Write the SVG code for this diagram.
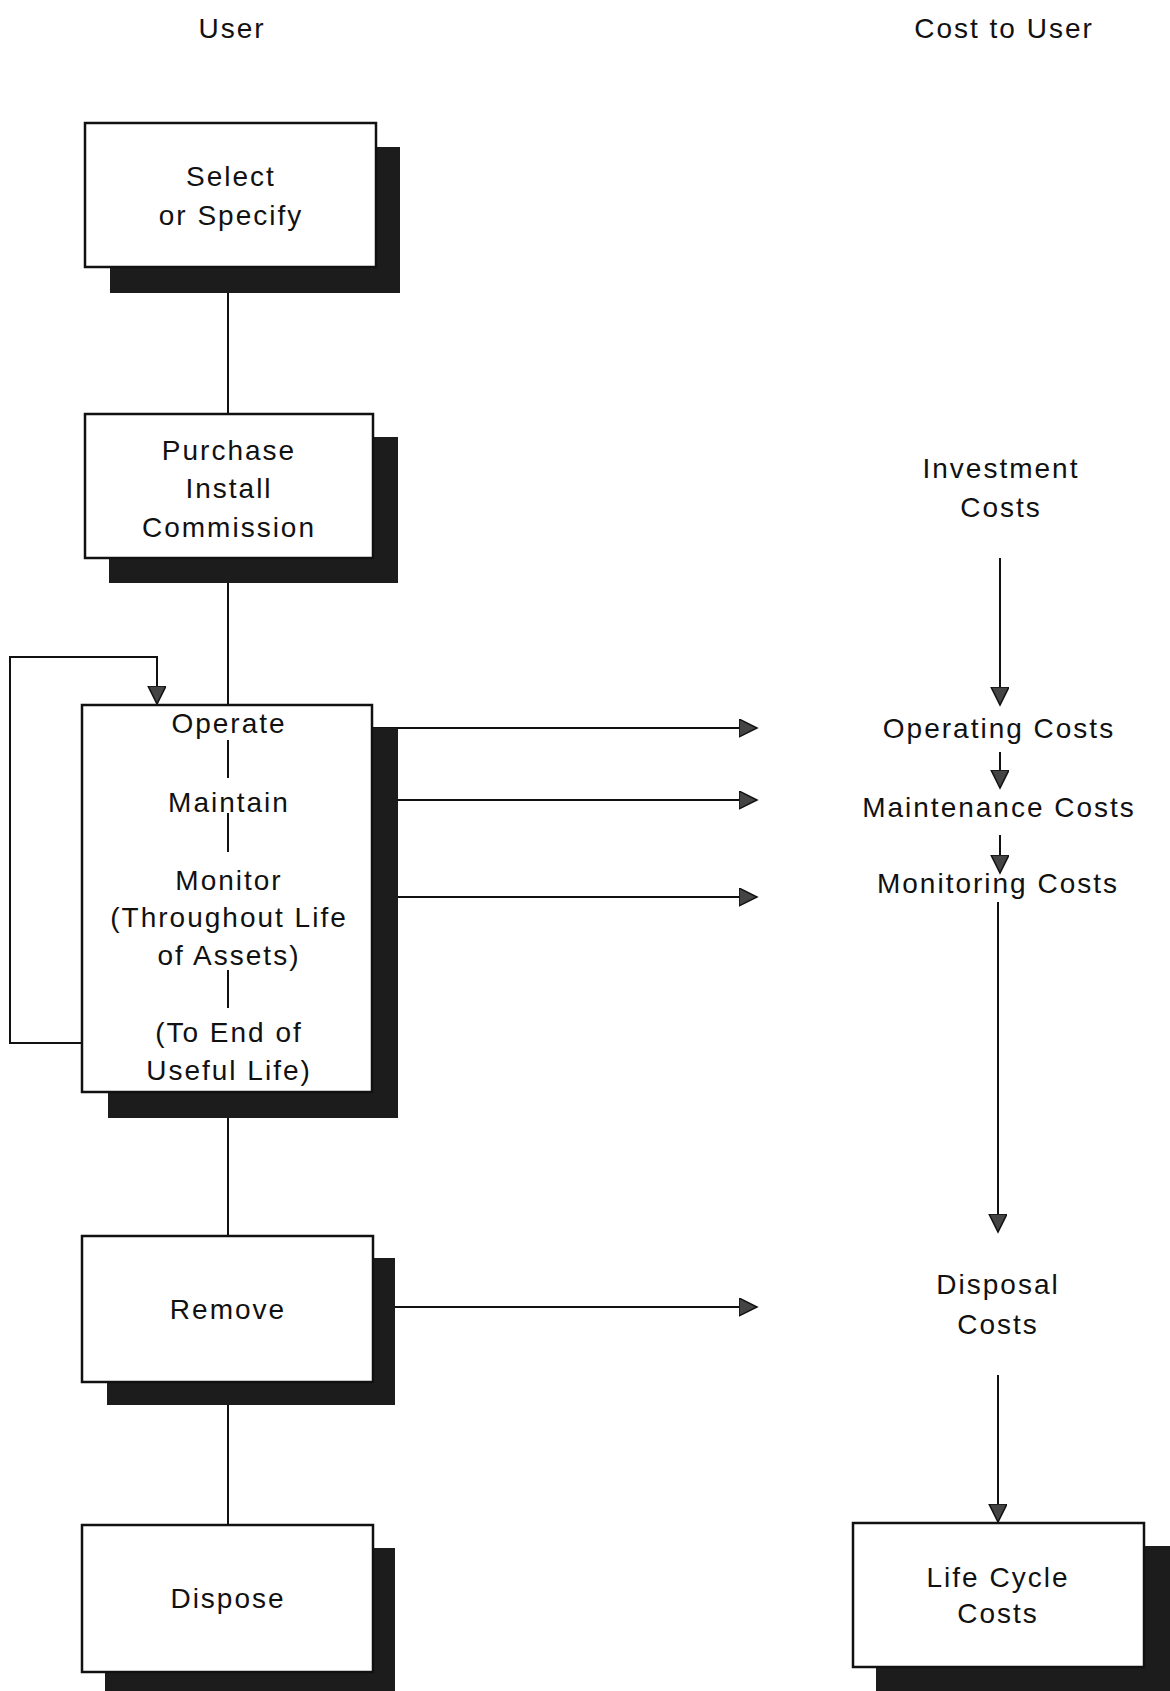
<svg xmlns="http://www.w3.org/2000/svg" width="1170" height="1691" viewBox="0 0 1170 1691">
<style>
text{font-family:"Liberation Sans",Arial,sans-serif;font-size:28px;letter-spacing:2px;fill:#111;text-anchor:middle}
.box{fill:#fff;stroke:#111;stroke-width:2.5}
.sh{fill:#1c1c1c}
.ln{stroke:#111;stroke-width:2;fill:none}
</style>
<defs>
<marker id="ah" markerUnits="userSpaceOnUse" markerWidth="20" markerHeight="20" refX="18" refY="9" orient="auto">
<path d="M0,0 L18,9 L0,18 z" fill="#444" stroke="#111" stroke-width="1.5"/>
</marker>
</defs>
<rect width="1170" height="1691" fill="#fff"/>
<g id="headers">
<text x="232" y="38">User</text>
<text x="1004" y="38">Cost to User</text>
</g>
<g id="connectors">
<line class="ln" x1="228" y1="267" x2="228" y2="414"/>
<line class="ln" x1="228" y1="558" x2="228" y2="705"/>
<line class="ln" x1="228" y1="1092" x2="228" y2="1236"/>
<line class="ln" x1="228" y1="1382" x2="228" y2="1525"/>
<polyline class="ln" points="82,1043 10,1043 10,657 157,657 157,704" marker-end="url(#ah)"/>
<line class="ln" x1="372" y1="728" x2="757" y2="728" marker-end="url(#ah)"/>
<line class="ln" x1="398" y1="800" x2="757" y2="800" marker-end="url(#ah)"/>
<line class="ln" x1="398" y1="897" x2="757" y2="897" marker-end="url(#ah)"/>
<line class="ln" x1="395" y1="1307" x2="757" y2="1307" marker-end="url(#ah)"/>
<line class="ln" x1="1000" y1="558" x2="1000" y2="705" marker-end="url(#ah)"/>
<line class="ln" x1="1000" y1="752" x2="1000" y2="788" marker-end="url(#ah)"/>
<line class="ln" x1="1000" y1="835" x2="1000" y2="873" marker-end="url(#ah)"/>
<line class="ln" x1="998" y1="902" x2="998" y2="1232" marker-end="url(#ah)"/>
<line class="ln" x1="998" y1="1375" x2="998" y2="1522" marker-end="url(#ah)"/>
</g>
<g id="select">
<rect class="sh" x="110" y="147" width="290" height="146"/>
<rect class="box" x="85" y="123" width="291" height="144"/>
<text x="231" y="186">Select</text>
<text x="231" y="225">or Specify</text>
</g>
<g id="purchase">
<rect class="sh" x="109" y="437" width="289" height="146"/>
<rect class="box" x="85" y="414" width="288" height="144"/>
<text x="229" y="460">Purchase</text>
<text x="229" y="498">Install</text>
<text x="229" y="537">Commission</text>
</g>
<g id="operate">
<rect class="sh" x="108" y="728" width="290" height="390"/>
<rect class="box" x="82" y="705" width="290" height="387"/>
<text x="229" y="733">Operate</text>
<text x="229" y="812">Maintain</text>
<text x="229" y="890">Monitor</text>
<text x="229" y="927">(Throughout Life</text>
<text x="229" y="965">of Assets)</text>
<text x="229" y="1042">(To End of</text>
<text x="229" y="1080">Useful Life)</text>
<line class="ln" x1="228" y1="740" x2="228" y2="778"/>
<line class="ln" x1="228" y1="813" x2="228" y2="852"/>
<line class="ln" x1="228" y1="970" x2="228" y2="1008"/>
</g>
<g id="remove">
<rect class="sh" x="107" y="1258" width="288" height="147"/>
<rect class="box" x="82" y="1236" width="291" height="146"/>
<text x="228" y="1319">Remove</text>
</g>
<g id="dispose">
<rect class="sh" x="105" y="1548" width="290" height="160"/>
<rect class="box" x="82" y="1525" width="291" height="147"/>
<text x="228" y="1608">Dispose</text>
</g>
<g id="investment">
<text x="1001" y="478">Investment</text>
<text x="1001" y="517">Costs</text>
</g>
<g id="operating-costs"><text x="999" y="738">Operating Costs</text></g>
<g id="maintenance-costs"><text x="999" y="817">Maintenance Costs</text></g>
<g id="monitoring-costs"><text x="998" y="893">Monitoring Costs</text></g>
<g id="disposal-costs">
<text x="998" y="1294">Disposal</text>
<text x="998" y="1334">Costs</text>
</g>
<g id="life-cycle-costs">
<rect class="sh" x="876" y="1546" width="300" height="160"/>
<rect class="box" x="853" y="1523" width="291" height="144"/>
<text x="998" y="1587">Life Cycle</text>
<text x="998" y="1623">Costs</text>
</g>
</svg>
